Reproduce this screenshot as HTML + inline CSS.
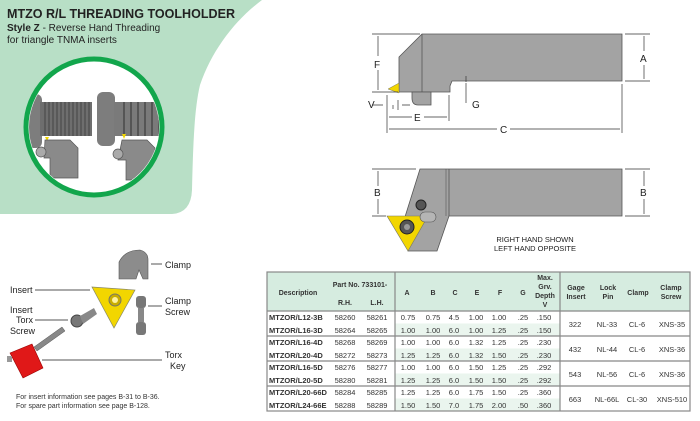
<!DOCTYPE html>
<html><head><meta charset="utf-8"><style>
body{margin:0;width:700px;height:421px;overflow:hidden;background:#fff;font-family:"Liberation Sans",sans-serif}
svg{position:absolute;left:0;top:0}
text{font-family:"Liberation Sans",sans-serif}
</style></head><body>
<svg width="700" height="421" viewBox="0 0 700 421" xmlns="http://www.w3.org/2000/svg">
<path d="M0,0 H262 C235,20 212,50 200,85 C194,110 193,150 192,190 Q191,213 172,214 H0 Z" fill="#b8dfc6"/>
<text x="7" y="18" font-size="13" font-weight="bold" fill="#222" textLength="228" lengthAdjust="spacingAndGlyphs">MTZO R/L THREADING TOOLHOLDER</text>
<text x="7" y="31" font-size="10" fill="#222"><tspan font-weight="bold">Style Z</tspan> - Reverse Hand Threading</text>
<text x="7" y="43" font-size="10" fill="#222">for triangle TNMA inserts</text>
<circle cx="94" cy="127" r="68" fill="#fff" stroke="#12a64c" stroke-width="5"/>
<clipPath id="cc"><circle cx="94" cy="127" r="65"/></clipPath>
<g clip-path="url(#cc)">
 <rect x="22" y="94" width="20" height="54" rx="6" fill="#7d7d7d"/>
 <rect x="40" y="102" width="52" height="34" fill="#6e6e6e"/>
 <g stroke="#444" stroke-width="1">
  <path d="M45,102V136M49,102V136M53,102V136M57,102V136M61,102V136M65,102V136M69,102V136M73,102V136M77,102V136M81,102V136M85,102V136M89,102V136"/>
 </g>
 <rect x="97" y="92" width="18" height="54" rx="6" fill="#7d7d7d"/>
 <rect x="114" y="102" width="50" height="34" fill="#7a7a7a"/>
 <g stroke="#555" stroke-width="2"><path d="M124,102V136M131,102V136M138,102V136M145,102V136M152,102V136M159,102V136"/></g>
 <polygon points="45,137 49,137 47,141" fill="#f2d600"/>
 <polygon points="122,134 126,134 124,139" fill="#f2d600"/>
 <path d="M45,140 H70 L78,148 V178 H50 V158 H44 Z" fill="#8a8a8a" stroke="#555" stroke-width=".7"/>
 <path d="M122,140 H147 L155,148 V180 H126 V160 H118 Z" fill="#8a8a8a" stroke="#555" stroke-width=".7"/>
 <circle cx="41" cy="152" r="5" fill="#aaa" stroke="#555" stroke-width=".7"/>
 <circle cx="118" cy="154" r="5" fill="#aaa" stroke="#555" stroke-width=".7"/>
</g>
<g fill="#a3a3a3" stroke="#555" stroke-width=".8">
 <path d="M422,34 H622 V81 H452 L450,86 V92 H399 V57 Z"/>
 <path d="M412,92 H431 V105 H418 Q412,105 412,98 Z"/>
</g>
<line x1="422" y1="34" x2="422" y2="92" stroke="#555" stroke-width=".8"/>
<polygon points="388,89 399,83 399,93" fill="#f2d600" stroke="#776" stroke-width=".5"/>
<g stroke="#333" stroke-width=".7" fill="none">
 <path d="M372,34H420M372,92H398M625,34H650M625,81H650M387,95V133M449,95V121M622,84V133M466,83V103M398,100V110M393,105V109"/>
 <path d="M378,36V56M378,70V90M644,36V51M644,65V79M389,117H412M424,117H447M389,129H497M510,129H620M372,105H383M402,105H410M466,76V82"/>
</g>
<text x="374" y="68" font-size="10" fill="#222">F</text>
<text x="640" y="62" font-size="10" fill="#222">A</text>
<text x="414" y="121" font-size="10" fill="#222">E</text>
<text x="500" y="133" font-size="10" fill="#222">C</text>
<text x="368" y="108" font-size="10" fill="#222">V</text>
<text x="472" y="108" font-size="10" fill="#222">G</text>
<g fill="#a3a3a3" stroke="#555" stroke-width=".8">
 <path d="M420,169 H622 V216 H449 L437,251 H408 L404,220 Z"/>
</g>
<line x1="449" y1="169" x2="449" y2="216" stroke="#555" stroke-width=".8"/>
<line x1="446" y1="169" x2="446" y2="216" stroke="#555" stroke-width=".6"/>
<polygon points="387,216 428,216 408,251" fill="#f2d600" stroke="#776" stroke-width=".6"/>
<circle cx="407" cy="227" r="7" fill="#555" stroke="#222"/><circle cx="407" cy="227" r="3" fill="#999"/>
<circle cx="421" cy="205" r="5" fill="#555" stroke="#222"/>
<rect x="420" y="212" width="16" height="10" rx="5" fill="#b5b5b5" stroke="#555" stroke-width=".6"/>
<g stroke="#333" stroke-width=".7" fill="none">
 <path d="M372,169H416M372,216H386M625,169H650M625,216H650M378,171V186M378,199V214M644,171V186M644,199V214"/>
</g>
<text x="374" y="196" font-size="10" fill="#222">B</text>
<text x="640" y="196" font-size="10" fill="#222">B</text>
<text x="535" y="242" font-size="7.5" text-anchor="middle" fill="#222">RIGHT HAND SHOWN</text>
<text x="535" y="251" font-size="7.5" text-anchor="middle" fill="#222">LEFT HAND OPPOSITE</text>
<path d="M119,262 Q125,250 140,250 Q148,252 148,260 V279 H143 L139,270 L136,279 H119 Z" fill="#8c8c8c" stroke="#555" stroke-width=".6"/>
<polygon points="92,287 135,290 114,328" fill="#f2d600" stroke="#886" stroke-width=".7"/>
<circle cx="115" cy="300" r="6" fill="#c9ad00" stroke="#776"/><circle cx="115" cy="300" r="3" fill="#fff3a0"/>
<rect x="136" y="296" width="10" height="12" rx="3" fill="#777"/>
<rect x="138" y="308" width="6" height="14" fill="#888"/>
<rect x="136" y="322" width="10" height="13" rx="3" fill="#777"/>
<circle cx="77" cy="321" r="6" fill="#777" stroke="#444"/>
<path d="M80,316 L94,308 L97,314 L83,324 Z" fill="#888"/>
<path d="M62,327 L34,347 L37,351 L65,331 Z" fill="#888" stroke="#555" stroke-width=".5"/>
<path d="M10,353 L32,344 L43,368 L23,378 Z" fill="#e01818" stroke="#900" stroke-width=".6"/>
<rect x="7" y="356" width="5" height="6" fill="#999"/>
<g stroke="#777" stroke-width="1.3" fill="none">
 <path d="M151,264H162M35,290H90M148,306H162M35,320H68M42,360H162"/>
</g>
<g font-size="9" fill="#222">
 <text x="165" y="268">Clamp</text>
 <text x="10" y="293">Insert</text>
 <text x="165" y="304">Clamp</text><text x="165" y="315">Screw</text>
 <text x="10" y="313">Insert</text><text x="16" y="323">Torx</text><text x="10" y="334">Screw</text>
 <text x="165" y="358">Torx</text><text x="170" y="369">Key</text>
</g>
<text x="16" y="399" font-size="7" fill="#333">For insert information see pages B-31 to B-36.</text>
<text x="16" y="408" font-size="7" fill="#333">For spare part information see page B-128.</text>
<rect x="267" y="272" width="423" height="39" fill="#d6ece0"/>
<g fill="#eaf5ee">
 <rect x="395" y="323.5" width="165" height="12.5"/><rect x="395" y="348.5" width="165" height="12.5"/>
 <rect x="395" y="373.5" width="165" height="12.5"/><rect x="395" y="398.5" width="165" height="12.5"/>
</g>
<g stroke="#888" stroke-width="1.2" fill="none">
 <rect x="267" y="272" width="423" height="139"/>
 <path d="M267,311H690M267,336H690M267,361H690M267,386H690M395,272V411M560,272V411"/>
</g>
<g font-size="7" font-weight="bold" fill="#333" text-anchor="middle">
 <text x="298" y="295">Description</text>
 <text x="360" y="287">Part No. 733101-</text>
 <text x="345" y="305">R.H.</text><text x="377" y="305">L.H.</text>
 <text x="407" y="295">A</text><text x="433" y="295">B</text><text x="455" y="295">C</text><text x="477" y="295">E</text><text x="500" y="295">F</text><text x="523" y="295">G</text>
 <text x="545" y="280">Max.</text><text x="545" y="289">Grv.</text><text x="545" y="298">Depth</text><text x="545" y="307">V</text>
 <text x="576" y="290">Gage</text><text x="576" y="299">Insert</text>
 <text x="608" y="290">Lock</text><text x="608" y="299">Pin</text>
 <text x="638" y="295">Clamp</text>
 <text x="671" y="290">Clamp</text><text x="671" y="299">Screw</text>
</g>
<g font-size="7.5" fill="#333">
 <g font-weight="bold">
  <text x="269" y="320">MTZOR/L12-3B</text><text x="269" y="333">MTZOR/L16-3D</text>
  <text x="269" y="345">MTZOR/L16-4D</text><text x="269" y="358">MTZOR/L20-4D</text>
  <text x="269" y="370">MTZOR/L16-5D</text><text x="269" y="383">MTZOR/L20-5D</text>
  <text x="269" y="395">MTZOR/L20-66D</text><text x="269" y="408">MTZOR/L24-66E</text>
 </g>
 <g text-anchor="middle">
  <text x="345" y="320">58260</text><text x="377" y="320">58261</text>
  <text x="345" y="333">58264</text><text x="377" y="333">58265</text>
  <text x="345" y="345">58268</text><text x="377" y="345">58269</text>
  <text x="345" y="358">58272</text><text x="377" y="358">58273</text>
  <text x="345" y="370">58276</text><text x="377" y="370">58277</text>
  <text x="345" y="383">58280</text><text x="377" y="383">58281</text>
  <text x="345" y="395">58284</text><text x="377" y="395">58285</text>
  <text x="345" y="408">58288</text><text x="377" y="408">58289</text>
 </g>
 <g text-anchor="middle">
  <text y="320"><tspan x="408">0.75</tspan><tspan x="433">0.75</tspan><tspan x="454">4.5</tspan><tspan x="476">1.00</tspan><tspan x="499">1.00</tspan><tspan x="523">.25</tspan><tspan x="544">.150</tspan></text>
  <text y="333"><tspan x="408">1.00</tspan><tspan x="433">1.00</tspan><tspan x="454">6.0</tspan><tspan x="476">1.00</tspan><tspan x="499">1.25</tspan><tspan x="523">.25</tspan><tspan x="544">.150</tspan></text>
  <text y="345"><tspan x="408">1.00</tspan><tspan x="433">1.00</tspan><tspan x="454">6.0</tspan><tspan x="476">1.32</tspan><tspan x="499">1.25</tspan><tspan x="523">.25</tspan><tspan x="544">.230</tspan></text>
  <text y="358"><tspan x="408">1.25</tspan><tspan x="433">1.25</tspan><tspan x="454">6.0</tspan><tspan x="476">1.32</tspan><tspan x="499">1.50</tspan><tspan x="523">.25</tspan><tspan x="544">.230</tspan></text>
  <text y="370"><tspan x="408">1.00</tspan><tspan x="433">1.00</tspan><tspan x="454">6.0</tspan><tspan x="476">1.50</tspan><tspan x="499">1.25</tspan><tspan x="523">.25</tspan><tspan x="544">.292</tspan></text>
  <text y="383"><tspan x="408">1.25</tspan><tspan x="433">1.25</tspan><tspan x="454">6.0</tspan><tspan x="476">1.50</tspan><tspan x="499">1.50</tspan><tspan x="523">.25</tspan><tspan x="544">.292</tspan></text>
  <text y="395"><tspan x="408">1.25</tspan><tspan x="433">1.25</tspan><tspan x="454">6.0</tspan><tspan x="476">1.75</tspan><tspan x="499">1.50</tspan><tspan x="523">.25</tspan><tspan x="544">.360</tspan></text>
  <text y="408"><tspan x="408">1.50</tspan><tspan x="433">1.50</tspan><tspan x="454">7.0</tspan><tspan x="476">1.75</tspan><tspan x="499">2.00</tspan><tspan x="523">.50</tspan><tspan x="544">.360</tspan></text>
  <text y="327"><tspan x="575">322</tspan><tspan x="607">NL-33</tspan><tspan x="637">CL-6</tspan><tspan x="672">XNS-35</tspan></text>
  <text y="352"><tspan x="575">432</tspan><tspan x="607">NL-44</tspan><tspan x="637">CL-6</tspan><tspan x="672">XNS-36</tspan></text>
  <text y="377"><tspan x="575">543</tspan><tspan x="607">NL-56</tspan><tspan x="637">CL-6</tspan><tspan x="672">XNS-36</tspan></text>
  <text y="402"><tspan x="575">663</tspan><tspan x="607">NL-66L</tspan><tspan x="637">CL-30</tspan><tspan x="672">XNS-510</tspan></text>
 </g>
</g>
</svg>
</body></html>
